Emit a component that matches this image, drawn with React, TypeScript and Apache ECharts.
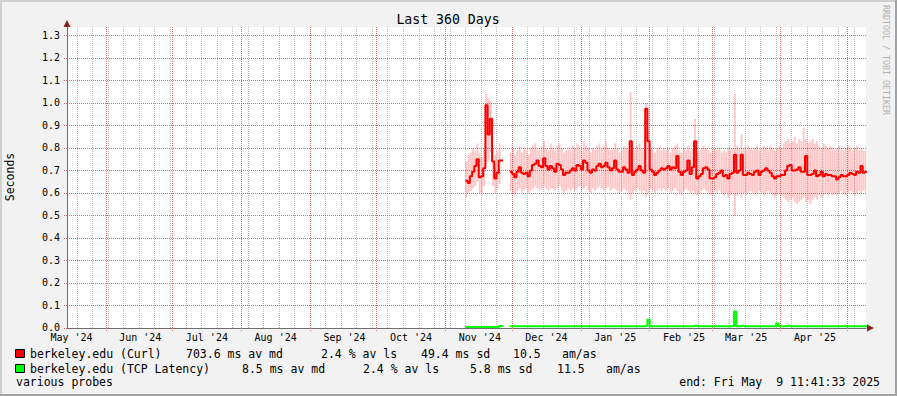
import React, { useEffect, useRef } from 'react';
import * as echarts from 'echarts';

const DAY = 86400000;
const END = Date.UTC(2025, 4, 9, 11, 41, 33);
const START = END - 360 * DAY;

// First block of data (Nov 10 - Nov 25 2024), second block (Nov 30 2024 - May 9 2025)
const blockAStart = Date.UTC(2024, 10, 10);
const blockBStart = Date.UTC(2024, 10, 30);

// Curl median (seconds)
const curlMedianA = [0.655, 0.645, 0.675, 0.695, 0.72, 0.75, 0.67, 0.675, 0.71, 0.99, 0.86, 0.93, 0.74, 0.665, 0.69, 0.745];
const curlMedianB = [
  0.695, 0.685, 0.67, 0.695, 0.715, 0.69, 0.685, 0.69, 0.675, 0.70,
  0.725, 0.73, 0.745, 0.72, 0.715, 0.755, 0.72, 0.705, 0.72, 0.71,
  0.695, 0.73, 0.725, 0.705, 0.68, 0.69, 0.69, 0.70, 0.71, 0.70,
  0.725, 0.72, 0.705, 0.745, 0.735, 0.70, 0.69, 0.705, 0.70, 0.72,
  0.73, 0.715, 0.72, 0.735, 0.715, 0.70, 0.71, 0.745, 0.705, 0.695,
  0.695, 0.715, 0.705, 0.69, 0.83, 0.68, 0.695, 0.705, 0.72, 0.70,
  0.69, 0.975, 0.83, 0.705, 0.695, 0.68, 0.69, 0.70, 0.71, 0.705,
  0.71, 0.72, 0.705, 0.715, 0.71, 0.765, 0.695, 0.68, 0.695, 0.70,
  0.745, 0.685, 0.715, 0.83, 0.665, 0.675, 0.685, 0.71, 0.715, 0.705,
  0.665, 0.665, 0.67, 0.685, 0.69, 0.70, 0.675, 0.68, 0.665, 0.685,
  0.69, 0.77, 0.69, 0.70, 0.77, 0.68, 0.68, 0.69, 0.685, 0.68,
  0.695, 0.70, 0.68, 0.695, 0.70, 0.71, 0.70, 0.69, 0.675, 0.665,
  0.675, 0.675, 0.68, 0.68, 0.70, 0.72, 0.725, 0.70, 0.70, 0.705,
  0.715, 0.695, 0.695, 0.765, 0.68, 0.68, 0.685, 0.70, 0.675, 0.68,
  0.695, 0.675, 0.685, 0.68, 0.68, 0.675, 0.675, 0.66, 0.67, 0.68,
  0.675, 0.675, 0.68, 0.69, 0.685, 0.68, 0.695, 0.69, 0.72, 0.69,
  0.695,
];

// Curl smoke range (low / high per day)
const curlLowA = [0.58, 0.60, 0.61, 0.62, 0.63, 0.65, 0.60, 0.59, 0.63, 0.74, 0.74, 0.78, 0.63, 0.60, 0.62, 0.64];
const curlHighA = [0.74, 0.77, 0.78, 0.80, 0.79, 0.82, 0.78, 0.76, 0.80, 1.04, 1.02, 1.01, 0.80, 0.77, 0.79, 0.82];
const curlLowB = [
  0.61, 0.60, 0.59, 0.61, 0.62, 0.60, 0.61, 0.62, 0.60, 0.61,
  0.62, 0.63, 0.62, 0.61, 0.62, 0.63, 0.62, 0.61, 0.62, 0.62,
  0.61, 0.62, 0.63, 0.61, 0.60, 0.61, 0.62, 0.61, 0.62, 0.61,
  0.62, 0.63, 0.61, 0.62, 0.63, 0.61, 0.60, 0.62, 0.61, 0.62,
  0.63, 0.62, 0.61, 0.62, 0.63, 0.61, 0.62, 0.62, 0.61, 0.60,
  0.61, 0.62, 0.61, 0.60, 0.57, 0.60, 0.61, 0.62, 0.61, 0.60,
  0.61, 0.58, 0.60, 0.62, 0.61, 0.60, 0.61, 0.62, 0.61, 0.62,
  0.61, 0.62, 0.60, 0.61, 0.62, 0.61, 0.60, 0.59, 0.61, 0.62,
  0.61, 0.60, 0.61, 0.60, 0.59, 0.60, 0.61, 0.62, 0.61, 0.60,
  0.59, 0.60, 0.61, 0.60, 0.61, 0.60, 0.59, 0.60, 0.58, 0.59,
  0.60, 0.50, 0.59, 0.60, 0.58, 0.60, 0.59, 0.60, 0.61, 0.60,
  0.59, 0.60, 0.61, 0.60, 0.59, 0.60, 0.61, 0.60, 0.59, 0.58,
  0.59, 0.60, 0.59, 0.58, 0.57, 0.56, 0.57, 0.58, 0.56, 0.55,
  0.56, 0.57, 0.58, 0.56, 0.57, 0.55, 0.57, 0.58, 0.57, 0.59,
  0.58, 0.59, 0.60, 0.59, 0.60, 0.59, 0.60, 0.59, 0.60, 0.61,
  0.60, 0.59, 0.60, 0.61, 0.60, 0.59, 0.60, 0.61, 0.60, 0.61,
  0.60,
];
const curlHighB = [
  0.78, 0.80, 0.77, 0.79, 0.81, 0.78, 0.80, 0.79, 0.77, 0.80,
  0.81, 0.82, 0.80, 0.79, 0.81, 0.83, 0.80, 0.79, 0.82, 0.80,
  0.79, 0.81, 0.82, 0.80, 0.78, 0.79, 0.80, 0.79, 0.81, 0.80,
  0.82, 0.81, 0.79, 0.83, 0.81, 0.80, 0.78, 0.80, 0.79, 0.81,
  0.82, 0.80, 0.81, 0.83, 0.80, 0.79, 0.80, 0.82, 0.80, 0.78,
  0.79, 0.81, 0.80, 0.79, 1.05, 0.80, 0.79, 0.81, 0.82, 0.80,
  0.79, 1.00, 0.88, 0.80, 0.79, 0.78, 0.80, 0.81, 0.79, 0.80,
  0.79, 0.80, 0.78, 0.80, 0.81, 0.82, 0.79, 0.78, 0.80, 0.79,
  0.81, 0.79, 0.80, 0.93, 0.78, 0.79, 0.80, 0.81, 0.80, 0.79,
  0.78, 0.79, 0.80, 0.79, 0.80, 0.78, 0.79, 0.78, 0.80, 0.79,
  0.80, 1.04, 0.81, 0.80, 0.86, 0.80, 0.79, 0.81, 0.80, 0.79,
  0.80, 0.81, 0.79, 0.80, 0.81, 0.80, 0.79, 0.81, 0.80, 0.79,
  0.80, 0.81, 0.80, 0.82, 0.83, 0.84, 0.82, 0.83, 0.85, 0.82,
  0.84, 0.83, 0.89, 0.84, 0.82, 0.83, 0.84, 0.82, 0.83, 0.81,
  0.80, 0.82, 0.81, 0.80, 0.81, 0.80, 0.79, 0.80, 0.81, 0.80,
  0.79, 0.80, 0.81, 0.80, 0.79, 0.80, 0.81, 0.79, 0.80, 0.79,
  0.79,
];

// TCP latency median (seconds)
const tcpA = [0.005, 0.005, 0.005, 0.005, 0.005, 0.005, 0.005, 0.005, 0.005, 0.005, 0.005, 0.005, 0.005, 0.005, 0.005, 0.009];
const tcpB = [
  0.008, 0.008, 0.008, 0.008, 0.008, 0.008, 0.008, 0.008, 0.008, 0.008,
  0.008, 0.008, 0.008, 0.008, 0.008, 0.008, 0.008, 0.008, 0.008, 0.008,
  0.008, 0.008, 0.008, 0.008, 0.008, 0.008, 0.008, 0.008, 0.008, 0.008,
  0.008, 0.008, 0.008, 0.008, 0.008, 0.008, 0.008, 0.008, 0.008, 0.008,
  0.008, 0.008, 0.008, 0.008, 0.008, 0.008, 0.008, 0.008, 0.008, 0.008,
  0.008, 0.008, 0.008, 0.008, 0.008, 0.008, 0.008, 0.008, 0.008, 0.008,
  0.008, 0.010, 0.038, 0.008, 0.008, 0.008, 0.008, 0.008, 0.008, 0.008,
  0.008, 0.008, 0.008, 0.008, 0.008, 0.008, 0.008, 0.008, 0.008, 0.008,
  0.008, 0.008, 0.008, 0.011, 0.008, 0.008, 0.008, 0.008, 0.008, 0.008,
  0.008, 0.008, 0.008, 0.008, 0.008, 0.008, 0.008, 0.008, 0.008, 0.008,
  0.008, 0.073, 0.008, 0.008, 0.011, 0.008, 0.008, 0.008, 0.008, 0.008,
  0.008, 0.008, 0.008, 0.008, 0.008, 0.008, 0.008, 0.008, 0.008, 0.008,
  0.021, 0.008, 0.008, 0.008, 0.008, 0.011, 0.008, 0.008, 0.008, 0.008,
  0.008, 0.008, 0.008, 0.008, 0.008, 0.008, 0.008, 0.008, 0.008, 0.008,
  0.008, 0.008, 0.008, 0.008, 0.008, 0.008, 0.008, 0.008, 0.008, 0.008,
  0.008, 0.008, 0.008, 0.008, 0.008, 0.008, 0.008, 0.008, 0.008, 0.008,
  0.008,
];

const yTicks = [0.0, 0.1, 0.2, 0.3, 0.4, 0.5, 0.6, 0.7, 0.8, 0.9, 1.0, 1.1, 1.2, 1.3];
const monthLabels = ["May '24", "Jun '24", "Jul '24", "Aug '24", "Sep '24", "Oct '24", "Nov '24", "Dec '24", "Jan '25", "Feb '25", "Mar '25", "Apr '25"];
const monthYM: [number, number][] = [[2024, 4], [2024, 5], [2024, 6], [2024, 7], [2024, 8], [2024, 9], [2024, 10], [2024, 11], [2025, 0], [2025, 1], [2025, 2], [2025, 3]];

const title = 'Last 360 Days';
const yTitle = 'Seconds';
const sideNote = 'RRDTOOL / TOBI OETIKER';
const curlName = 'berkeley.edu (Curl)';
const tcpName = 'berkeley.edu (TCP Latency)';
const curlStats = ['703.6 ms av md', '2.4 % av ls', '49.4 ms sd', '10.5', 'am/as'];
const tcpStats = ['8.5 ms av md', '2.4 % av ls', '5.8 ms sd', '11.5', 'am/as'];
const footLeft = 'various probes';
const footRight = 'end: Fri May  9 11:41:33 2025';

const MONO = '"DejaVu Sans Mono", monospace';

function stepData(start: number, vals: number[]) {
  const out: any[] = vals.map((v, i) => [start + i * DAY, v]);
  out.push([start + vals.length * DAY, vals[vals.length - 1]]);
  return out;
}

function buildOption() {
  const curlLine = [
    ...stepData(blockAStart, curlMedianA),
    [blockAStart + (curlMedianA.length + 1) * DAY, null],
    ...stepData(blockBStart, curlMedianB),
  ];
  const tcpLine = [
    ...stepData(blockAStart, tcpA),
    [blockAStart + (tcpA.length + 1) * DAY, null],
    ...stepData(blockBStart, tcpB),
  ];
  const smoke = [
    ...curlLowA.map((lo, i) => [blockAStart + i * DAY, lo, curlHighA[i]]),
    ...curlLowB.map((lo, i) => [blockBStart + i * DAY, lo, curlHighB[i]]),
  ];

  const weekLines: number[] = [];
  for (let t = Date.UTC(2024, 4, 19); t < END; t += 7 * DAY) weekLines.push(t);
  const monthStarts: number[] = [];
  for (let i = 1; i < monthYM.length; i++) monthStarts.push(Date.UTC(monthYM[i][0], monthYM[i][1], 1));
  monthStarts.push(Date.UTC(2025, 4, 1));
  const labelPos = monthYM.map(([y, m]) => Date.UTC(y, m, 16, 12));
  const labelMap = new Map<number, string>();
  labelPos.forEach((p, i) => labelMap.set(p, monthLabels[i]));

  const majorH = '#e26a6a';
  const majorV = '#e56f6f';
  const minorV = '#bdbdbd';

  const textEl = (text: string, x: number, y: number, extra: any = {}) => ({
    type: 'text',
    x,
    y,
    silent: true,
    style: {
      text,
      fill: '#000',
      font: `11.5px ${MONO}`,
      textAlign: 'left',
      textVerticalAlign: 'middle',
      ...extra,
    },
  });

  const row1X = [186, 321, 421, 513, 562];
  const row2X = [242, 363, 470, 557, 606];

  const graphic: any[] = [
    { type: 'rect', shape: { x: 0, y: 0, width: 897, height: 2 }, style: { fill: '#cfcfcf' }, silent: true },
    { type: 'rect', shape: { x: 0, y: 0, width: 2, height: 396 }, style: { fill: '#cfcfcf' }, silent: true },
    { type: 'rect', shape: { x: 0, y: 394, width: 897, height: 2 }, style: { fill: '#a2a2a2' }, silent: true },
    { type: 'rect', shape: { x: 895, y: 0, width: 2, height: 396 }, style: { fill: '#a2a2a2' }, silent: true },
    { type: 'polygon', shape: { points: [[63.5, 27], [70.5, 27], [67, 20]] }, style: { fill: '#8b2020' }, silent: true },
    { type: 'polygon', shape: { points: [[867, 324.5], [867, 331.5], [874, 328]] }, style: { fill: '#8b2020' }, silent: true },
    textEl(title, 448, 19.5, { textAlign: 'center', font: `13.2px ${MONO}` }),
    { ...textEl(yTitle, 10, 177, { textAlign: 'center' }), rotation: Math.PI / 2 },
    { ...textEl(sideNote, 886, 60, { textAlign: 'center', font: `8.3px ${MONO}`, fill: '#b0b0b0' }), rotation: -Math.PI / 2 },
    { type: 'rect', shape: { x: 15.5, y: 349.5, width: 9, height: 8 }, style: { fill: '#ff0000', stroke: '#000', lineWidth: 1 }, silent: true },
    { type: 'rect', shape: { x: 15.5, y: 364.5, width: 9, height: 8 }, style: { fill: '#00ff00', stroke: '#000', lineWidth: 1 }, silent: true },
    textEl(curlName, 30, 353.5),
    ...curlStats.map((s, i) => textEl(s, row1X[i], 353.5)),
    textEl(tcpName, 30, 368.5),
    ...tcpStats.map((s, i) => textEl(s, row2X[i], 368.5)),
    textEl(footLeft, 16, 382),
    textEl(footRight, 880, 382, { textAlign: 'right' }),
  ];

  const gridLines = [
    ...weekLines.map((t) => ({ xAxis: t, lineStyle: { color: minorV, type: [1, 1], width: 1 } })),
    ...monthStarts.map((t) => ({ xAxis: t, lineStyle: { color: majorV, type: [1, 1], width: 1 } })),
    ...yTicks.filter((v) => v > 0).map((v) => ({ yAxis: v, lineStyle: { color: majorH, type: [1, 1], width: 1 } })),
  ];

  return {
    animation: false,
    backgroundColor: '#f2f2f2',
    grid: { left: 67, right: 31, top: 27, bottom: 68, show: true, backgroundColor: '#ffffff', borderWidth: 0 },
    xAxis: {
      type: 'value',
      min: START,
      max: END,
      splitLine: { show: false },
      axisLine: { show: true, lineStyle: { color: '#6e6e6e', width: 1 } },
      axisTick: { show: true, customValues: monthStarts, length: 4, lineStyle: { color: majorV, type: [1, 1] } },
      axisLabel: {
        show: true,
        customValues: labelPos,
        margin: 4,
        color: '#000',
        fontFamily: MONO,
        fontSize: 10,
        lineHeight: 10,
        formatter: (v: number) => labelMap.get(v) ?? '',
      },
    },
    yAxis: {
      type: 'value',
      min: 0,
      max: 1.338,
      splitLine: { show: false },
      axisLine: { show: true, lineStyle: { color: '#6e6e6e', width: 1 } },
      axisTick: { show: true, customValues: yTicks, length: 4, lineStyle: { color: majorH, type: [1, 1] } },
      axisLabel: {
        show: true,
        customValues: yTicks,
        margin: 7,
        color: '#000',
        fontFamily: MONO,
        fontSize: 10,
        lineHeight: 9,
        verticalAlign: 'bottom',
        padding: [0, 0, -4, 0],
        formatter: (v: number) => v.toFixed(1),
      },
    },
    graphic,
    series: [
      {
        type: 'scatter',
        data: [],
        z: 1,
        silent: true,
        markLine: {
          silent: true,
          z: 1,
          symbol: ['none', 'none'],
          label: { show: false },
          animation: false,
          lineStyle: { color: majorH, type: [1, 1], width: 1, opacity: 1 },
          data: gridLines,
        },
      },
      {
        type: 'custom',
        z: 3,
        silent: true,
        clip: true,
        encode: { x: 0, y: [1, 2] },
        data: smoke,
        renderItem: (params: any, api: any) => {
          const t = api.value(0);
          const p1 = api.coord([t, api.value(2)]);
          const p2 = api.coord([t + DAY, api.value(1)]);
          return {
            type: 'rect',
            shape: { x: p1[0], y: p1[1], width: Math.max(p2[0] - p1[0] - 0.3, 0.8), height: p2[1] - p1[1] },
            style: { fill: 'rgba(255,30,30,0.25)' },
          };
        },
      },
      {
        type: 'line',
        z: 5,
        step: 'end',
        showSymbol: false,
        symbol: 'none',
        silent: true,
        connectNulls: false,
        lineStyle: { color: '#ff0000', width: 2 },
        data: curlLine,
      },
      {
        type: 'line',
        z: 6,
        step: 'end',
        showSymbol: false,
        symbol: 'none',
        silent: true,
        connectNulls: false,
        lineStyle: { color: '#00ff00', width: 2 },
        data: tcpLine,
      },
    ],
  };
}

export default function App() {
  const ref = useRef<HTMLDivElement>(null);
  useEffect(() => {
    const chart = echarts.init(ref.current!, null, { renderer: 'svg' });
    chart.setOption(buildOption() as any);
    return () => chart.dispose();
  }, []);
  return <div ref={ref} style={{ position: 'absolute', left: 0, top: 0, width: 897, height: 396 }} />;
}
